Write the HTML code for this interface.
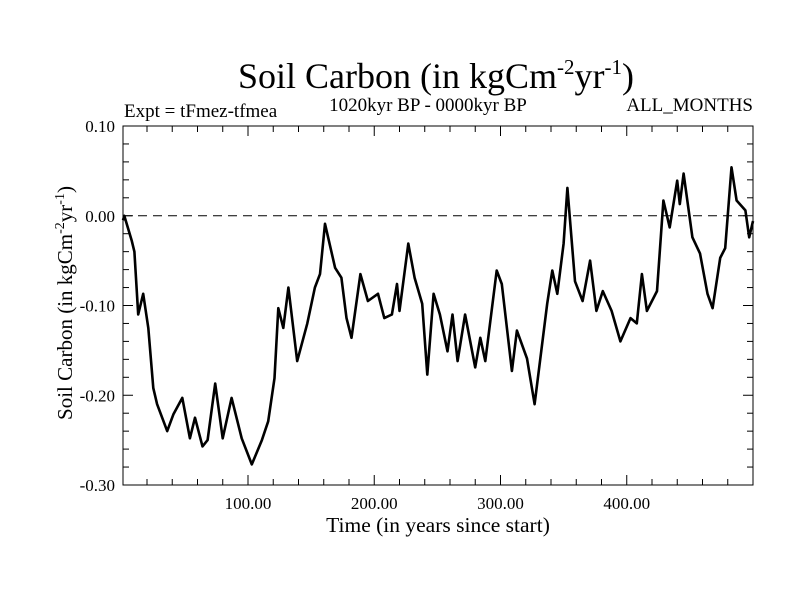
<!DOCTYPE html>
<html><head><meta charset="utf-8"><style>
body{margin:0;background:#fff;}
svg{display:block;font-family:"Liberation Serif",serif;}
</style></head><body>
<svg id="chart" width="800" height="600" viewBox="0 0 800 600">
<rect width="800" height="600" fill="#fff"/>
<text x="436" y="88" font-size="36" text-anchor="middle">Soil Carbon (in kgCm<tspan dy="-14" font-size="21">-2</tspan><tspan dy="14">yr</tspan><tspan dy="-14" font-size="21">-1</tspan><tspan dy="14">)</tspan></text>
<text x="124" y="117" font-size="19">Expt = tFmez-tfmea</text>
<text x="428" y="111" font-size="19" text-anchor="middle">1020kyr BP - 0000kyr BP</text>
<text x="753" y="111" font-size="19" text-anchor="end">ALL_MONTHS</text>
<text transform="translate(72,303) rotate(-90)" font-size="21" text-anchor="middle">Soil Carbon (in kgCm<tspan dy="-8" font-size="14">-2</tspan><tspan dy="8">yr</tspan><tspan dy="-8" font-size="14">-1</tspan><tspan dy="8">)</tspan></text>
<text x="438" y="532" font-size="21.5" text-anchor="middle">Time (in years since start)</text>
<g id="axes"></g>
<line id="zero" x1="123" x2="753" stroke="#000" stroke-width="1" stroke-dasharray="9,6"/>
<path id="series" fill="none" stroke="#000" stroke-width="2.6" stroke-linejoin="round"/>
<rect x="123" y="126" width="630" height="359" fill="none" stroke="#000" stroke-width="1"/>
</svg>
<script>
const times=[1,2,8,10,13,17,21,25,28,36,41,48,54,58,64,68,74,80,87,95,103,111,116,121,124,128,132,139,147,153,157,161,169,174,178,182,189,195,203,208,214,218,220,227,232,238,242,247,252,258,262,266,272,280,284,288,297,301,309,313,321,327,337,341,345,350,353,359,365,371,376,381,388,395,403,408,412,416,424,429,434,440,442,445,452,458,464,468,474,478,483,487,494,497,500];
const values=[-0.005,0.0,-0.028,-0.04,-0.11,-0.087,-0.125,-0.192,-0.21,-0.24,-0.221,-0.203,-0.248,-0.225,-0.257,-0.25,-0.187,-0.248,-0.203,-0.248,-0.277,-0.25,-0.229,-0.181,-0.103,-0.125,-0.08,-0.162,-0.12,-0.08,-0.065,-0.009,-0.058,-0.069,-0.114,-0.136,-0.065,-0.095,-0.087,-0.114,-0.11,-0.076,-0.106,-0.031,-0.069,-0.098,-0.177,-0.087,-0.11,-0.151,-0.11,-0.162,-0.11,-0.169,-0.136,-0.162,-0.061,-0.076,-0.173,-0.128,-0.159,-0.21,-0.098,-0.061,-0.087,-0.031,0.031,-0.073,-0.095,-0.05,-0.106,-0.084,-0.106,-0.14,-0.114,-0.12,-0.065,-0.106,-0.084,0.017,-0.013,0.039,0.013,0.047,-0.024,-0.042,-0.087,-0.103,-0.047,-0.036,0.054,0.017,0.006,-0.024,-0.006];
const xTickLabels=["100.00","200.00","300.00","400.00"];
const xTickValues=[100,200,300,400];
const yTickLabels=["0.10","0.00","-0.10","-0.20","-0.30"];
const yTickValues=[0.1,0,-0.1,-0.2,-0.3];
const X0=123,X1=753,Y0=126,Y1=485,TMIN=1,TMAX=500,VMAX=0.1,VMIN=-0.3;
function xs(t){return X0+(t-TMIN)/(TMAX-TMIN)*(X1-X0);}
function ys(v){return Y0+(VMAX-v)/(VMAX-VMIN)*(Y1-Y0);}
const ns="http://www.w3.org/2000/svg";
const axes=document.getElementById('axes');
function line(x1,y1,x2,y2,name){const l=document.createElementNS(ns,'line');l.setAttribute('x1',x1);l.setAttribute('y1',y1);l.setAttribute('x2',x2);l.setAttribute('y2',y2);l.setAttribute('stroke','#000');l.setAttribute('stroke-width','1');


axes.appendChild(l);}
for(let t=20;t<500;t+=20){const x=xs(t);const L=(t%100===0)?10:6;line(x,Y1,x,Y1-L,'x-tick');line(x,Y0,x,Y0+L,'x-tick-top');}
for(let k=0;k<=20;k++){const v=VMIN+k*0.02;const y=ys(v);const L=(k%5===0)?10:6;line(X0,y,X0+L,y,'y-tick');line(X1,y,X1-L,y,'y-tick-right');}
xTickLabels.forEach((s,i)=>{const t=document.createElementNS(ns,'text');t.setAttribute('x',xs(xTickValues[i]));t.setAttribute('y',509);t.setAttribute('font-size','17');t.setAttribute('text-anchor','middle');t.textContent=s;


axes.appendChild(t);});
yTickLabels.forEach((s,i)=>{const t=document.createElementNS(ns,'text');t.setAttribute('x',115);t.setAttribute('y',ys(yTickValues[i])+6);t.setAttribute('font-size','17');t.setAttribute('text-anchor','end');t.textContent=s;


axes.appendChild(t);});
const z=document.getElementById('zero');z.setAttribute('y1',ys(0));z.setAttribute('y2',ys(0));
document.getElementById('series').setAttribute('d',times.map((t,i)=>(i?'L':'M')+xs(t).toFixed(1)+','+ys(values[i]).toFixed(1)).join(''));
</script>
</body></html>
